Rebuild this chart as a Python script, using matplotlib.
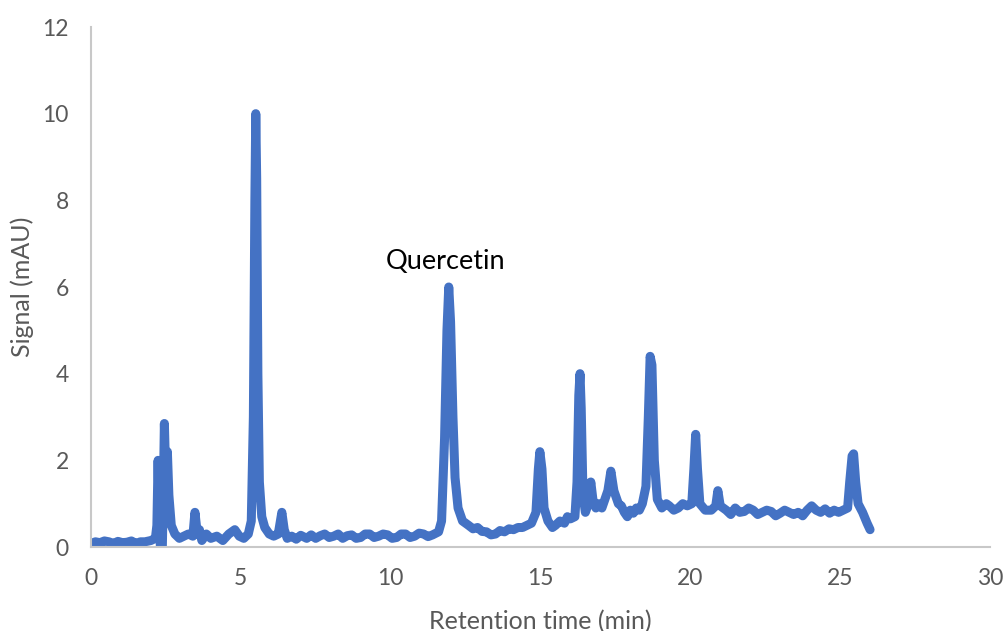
import matplotlib.pyplot as plt

# chromatogram trace, retention time (min) vs signal (mAU)
time_min = [
    0.0, 0.15, 0.3, 0.45, 0.6, 0.75, 0.9, 1.05, 1.2, 1.35, 1.5, 1.65, 1.8,
    2.0, 2.15, 2.2, 2.24, 2.28, 2.32, 2.38, 2.41, 2.45, 2.5, 2.55, 2.6, 2.68,
    2.8, 2.95, 3.1, 3.25, 3.4, 3.47, 3.55, 3.62, 3.7, 3.85, 4.0, 4.2, 4.4,
    4.6, 4.8, 4.95, 5.1, 5.25, 5.35, 5.42, 5.47, 5.5, 5.53, 5.57, 5.62, 5.7,
    5.8, 5.95, 6.1, 6.25, 6.37, 6.45, 6.55, 6.7, 6.85, 7.0, 7.2, 7.35, 7.5,
    7.65, 7.8, 7.95, 8.1, 8.25, 8.4, 8.55, 8.7, 8.85, 9.0, 9.15, 9.3, 9.45,
    9.6, 9.75, 9.9, 10.05, 10.2, 10.35, 10.5, 10.65, 10.8, 10.95, 11.1,
    11.25, 11.4, 11.6, 11.7, 11.8, 11.88, 11.94, 12.0, 12.08, 12.15, 12.25,
    12.4, 12.6, 12.75, 12.9, 13.05, 13.2, 13.35, 13.5, 13.65, 13.8, 13.95,
    14.1, 14.25, 14.4, 14.55, 14.7, 14.85, 14.93, 14.98, 15.05, 15.12, 15.25,
    15.4, 15.5, 15.65, 15.8, 15.9, 16.0, 16.15, 16.22, 16.28, 16.32, 16.36,
    16.42, 16.5, 16.6, 16.68, 16.75, 16.85, 16.95, 17.05, 17.15, 17.25,
    17.35, 17.45, 17.6, 17.7, 17.8, 17.9, 18.0, 18.1, 18.2, 18.3, 18.4,
    18.52, 18.6, 18.66, 18.72, 18.8, 18.9, 19.05, 19.2, 19.3, 19.45, 19.6,
    19.75, 19.9, 20.05, 20.12, 20.18, 20.24, 20.32, 20.5, 20.7, 20.85, 20.92,
    21.0, 21.2, 21.35, 21.5, 21.65, 21.8, 21.95, 22.1, 22.25, 22.4, 22.55,
    22.7, 22.85, 23.0, 23.15, 23.3, 23.45, 23.6, 23.75, 23.9, 24.05, 24.2,
    24.35, 24.5, 24.65, 24.8, 24.95, 25.1, 25.25, 25.32, 25.4, 25.45, 25.52,
    25.6, 25.75, 25.9, 26.0,
]
signal_mau = [
    0.08, 0.12, 0.1, 0.14, 0.12, 0.08, 0.13, 0.1, 0.11, 0.14, 0.08, 0.12,
    0.12, 0.15, 0.2, 0.5, 2.0, 0.6, -0.05, -0.05, 1.0, 2.85, 1.5, 2.2, 1.2,
    0.5, 0.3, 0.2, 0.25, 0.3, 0.25, 0.8, 0.3, 0.4, 0.15, 0.3, 0.2, 0.25,
    0.15, 0.3, 0.4, 0.25, 0.2, 0.3, 0.6, 3.0, 8.0, 10.0, 8.5, 4.0, 1.5, 0.7,
    0.45, 0.3, 0.25, 0.3, 0.8, 0.4, 0.2, 0.25, 0.18, 0.27, 0.2, 0.28, 0.2,
    0.26, 0.3, 0.22, 0.25, 0.3, 0.2, 0.26, 0.28, 0.2, 0.22, 0.3, 0.3, 0.22,
    0.25, 0.3, 0.28, 0.2, 0.22, 0.3, 0.3, 0.22, 0.25, 0.32, 0.3, 0.24, 0.28,
    0.35, 0.6, 2.5, 5.0, 6.0, 5.2, 3.0, 1.6, 0.9, 0.6, 0.5, 0.42, 0.45, 0.36,
    0.35, 0.28, 0.3, 0.38, 0.35, 0.42, 0.4, 0.45, 0.45, 0.5, 0.55, 0.8, 1.8,
    2.2, 1.8, 0.9, 0.6, 0.45, 0.5, 0.6, 0.55, 0.7, 0.65, 0.7, 1.5, 3.5, 4.0,
    3.2, 1.2, 0.8, 1.0, 1.5, 1.1, 0.9, 1.0, 0.9, 1.1, 1.3, 1.75, 1.3, 1.0,
    0.95, 0.8, 0.7, 0.85, 0.78, 0.9, 0.85, 1.0, 1.4, 3.0, 4.4, 4.2, 2.0, 1.1,
    0.9, 1.0, 0.95, 0.85, 0.9, 1.0, 0.95, 1.0, 1.8, 2.6, 1.8, 1.0, 0.85, 0.85,
    0.95, 1.3, 0.95, 0.85, 0.75, 0.9, 0.8, 0.82, 0.9, 0.85, 0.75, 0.8, 0.85,
    0.82, 0.72, 0.78, 0.85, 0.8, 0.75, 0.8, 0.72, 0.85, 0.95, 0.85, 0.8,
    0.88, 0.78, 0.85, 0.8, 0.85, 0.9, 1.5, 2.1, 2.15, 1.5, 1.0, 0.8, 0.55,
    0.4,
]
x_ticks = [0, 5, 10, 15, 20, 25, 30]
y_ticks = [0, 2, 4, 6, 8, 10, 12]

plt.rcParams['font.family'] = ['Lato', 'DejaVu Sans']

fig = plt.figure(figsize=(10.04, 6.31), dpi=100)
ax = fig.add_axes([0.0906, 0.1331, 0.8954, 0.8241])

ax.plot(time_min, signal_mau, color='#4472C4', linewidth=6.5,
        solid_joinstyle='round', solid_capstyle='round')

ax.set_xlim(0, 30)
ax.set_ylim(0, 12)
ax.set_xticks(x_ticks)
ax.set_yticks(y_ticks)
ax.tick_params(length=0, labelsize=16.5, colors='#595959')
ax.tick_params(axis='x', pad=15)
ax.tick_params(axis='y', pad=16)

for side in ['top', 'right']:
    ax.spines[side].set_visible(False)
for side in ['left', 'bottom']:
    ax.spines[side].set_color('#C8C8C8')
    ax.spines[side].set_linewidth(1.5)

ax.set_xlabel('Retention time (min)', fontsize=18, color='#595959', labelpad=15)
ax.set_ylabel('Signal (mAU)', fontsize=18, color='#595959', labelpad=6)

ax.text(11.85, 6.58, 'Quercetin', fontsize=19.5, color='black',
        ha='center', va='center')

fig.savefig('out.png', dpi=100)
